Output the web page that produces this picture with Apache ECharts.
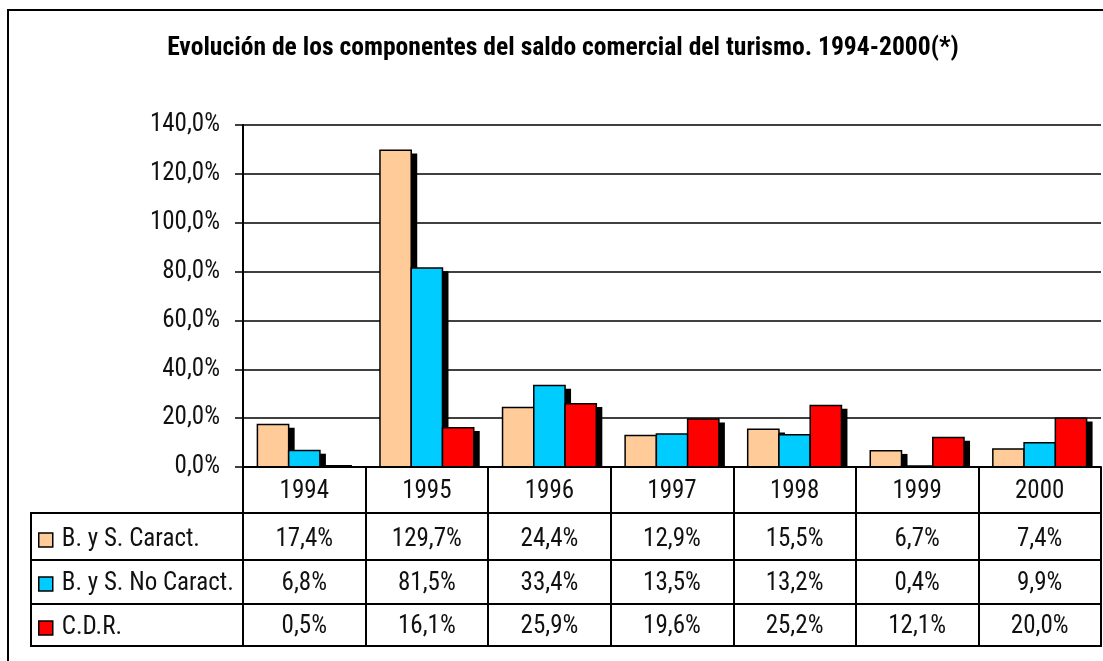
<!DOCTYPE html>
<html>
<head>
<meta charset="utf-8">
<script src="https://cdn.jsdelivr.net/npm/echarts@6/dist/echarts.min.js"></script>
<style>html,body{margin:0;padding:0;background:#fff}#c{width:1103px;height:661px}</style>
</head>
<body>
<div id="c"></div>
<script>
var titleText = 'Evolución de los componentes del saldo comercial del turismo. 1994-2000(*)';
var categories = ['1994', '1995', '1996', '1997', '1998', '1999', '2000'];
var seriesNames = ['B. y S. Caract.', 'B. y S. No Caract.', 'C.D.R.'];
var caract = [17.4, 129.7, 24.4, 12.9, 15.5, 6.7, 7.4];
var noCaract = [6.8, 81.5, 33.4, 13.5, 13.2, 0.4, 9.9];
var cdr = [0.5, 16.1, 25.9, 19.6, 25.2, 12.1, 20.0];
var yMin = 0, yMax = 140, yStep = 20;

var FONT = "'Roboto Condensed', 'DejaVu Sans Condensed', sans-serif";
var colors = ['#FFCC99', '#00CCFF', '#FF0000'];
var seriesData = [caract, noCaract, cdr];
var CAT_GAP = 0.235;

function fmt(v) { return v.toFixed(1).replace('.', ',') + '%'; }

var chart = echarts.init(document.getElementById('c'), null, {renderer: 'canvas'});

var G = {left: 243, right: 2, top: 125, bottom: 194};
var rowCenters = [491.5, 539.5, 583.5, 627];
var axisY = 661 - G.bottom;

var xAxes = [{
  type: 'category', gridIndex: 0, position: 'bottom', data: categories, z: 10,
  axisLine: {show: true, lineStyle: {color: '#000', width: 2}},
  axisTick: {show: true, interval: 0, length: 179, lineStyle: {color: '#000', width: 2}},
  axisLabel: {interval: 0, margin: rowCenters[0] - axisY, verticalAlign: 'middle',
    fontFamily: FONT, fontSize: 25, color: '#111'},
  splitLine: {show: false}
}];
seriesData.forEach(function (arr, k) {
  xAxes.push({
    type: 'category', gridIndex: 0, position: 'bottom', data: categories,
    axisLine: {show: false}, axisTick: {show: false}, splitLine: {show: false},
    axisLabel: {interval: 0, margin: rowCenters[k + 1] - axisY, verticalAlign: 'middle',
      fontFamily: FONT, fontSize: 25, color: '#111',
      formatter: function (v, i) { return fmt(arr[i]); }}
  });
});

function makeRender(k) {
  return function (params, api) {
    var ci = api.value(0), v = api.value(1);
    var base = api.coord([ci, 0]);
    var top = api.coord([ci, v]);
    var band = api.size([1, 0])[0];
    var bw = band * (1 - CAT_GAP) / 3;
    var x = base[0] - 1.5 * bw + k * bw;
    var h = base[1] - top[1];
    var sdx = 6, sdy = 3.3;
    var children = [];
    if (h > sdy) {
      children.push({type: 'rect', shape: {x: x + sdx, y: top[1] + sdy, width: bw, height: h - sdy}, style: {fill: '#000'}});
    }
    children.push({type: 'rect', shape: {x: x, y: top[1], width: bw, height: h},
      style: {fill: colors[k], stroke: '#000', lineWidth: 1.5}});
    return {type: 'group', children: children};
  };
}

var series = seriesData.map(function (arr, k) {
  return {
    name: seriesNames[k], type: 'custom', xAxisIndex: 0, yAxisIndex: 0,
    data: arr.map(function (v, i) { return [i, v]; }),
    encode: {x: 0, y: 1},
    itemStyle: {color: colors[k]},
    renderItem: makeRender(k),
    silent: true
  };
});

var tableLeft = 31, tableRight = 1101;
var hLines = [513, 560, 604, 646];
var graphics = [
  {type: 'rect', shape: {x: 8, y: 10, width: 1110, height: 670}, style: {fill: 'none', stroke: '#000', lineWidth: 2}, z: -1, silent: true},
  {type: 'text', x: 563, y: 48.3, style: {text: titleText, font: 'bold 25.6px ' + FONT, fill: '#000', align: 'center', verticalAlign: 'middle'}},
  {type: 'line', shape: {x1: tableLeft, y1: hLines[0], x2: tableLeft, y2: hLines[3]}, style: {stroke: '#000', lineWidth: 2}, z: 10}
];
hLines.forEach(function (y) {
  graphics.push({type: 'line', shape: {x1: tableLeft - 1, y1: y, x2: tableRight + 1, y2: y}, style: {stroke: '#000', lineWidth: 2}, z: 10});
});

chart.setOption({
  animation: false,
  backgroundColor: '#fff',
  grid: {left: G.left, right: G.right, top: G.top, bottom: G.bottom, containLabel: false},
  legend: {
    orient: 'vertical', left: 38, top: 527.5, padding: 0, itemGap: 19,
    itemWidth: 14, itemHeight: 14, icon: 'rect', selectedMode: false,
    data: seriesNames.map(function (n, k) { return {name: n, itemStyle: {color: colors[k], borderColor: '#000', borderWidth: 1.5}}; }),
    textStyle: {fontFamily: FONT, fontSize: 25, lineHeight: 25, color: '#111', padding: [0, 0, 0, 4]}
  },
  xAxis: xAxes,
  yAxis: {
    type: 'value', min: yMin, max: yMax, interval: yStep,
    axisLine: {show: true, lineStyle: {color: '#000', width: 2}},
    axisTick: {show: true, length: 8, lineStyle: {color: '#000', width: 1.5}},
    axisLabel: {margin: 23, fontFamily: FONT, fontSize: 25, color: '#111', formatter: fmt},
    splitLine: {show: true, lineStyle: {color: '#000', width: 1.5}}
  },
  series: series,
  graphic: graphics
});
</script>
</body>
</html>
